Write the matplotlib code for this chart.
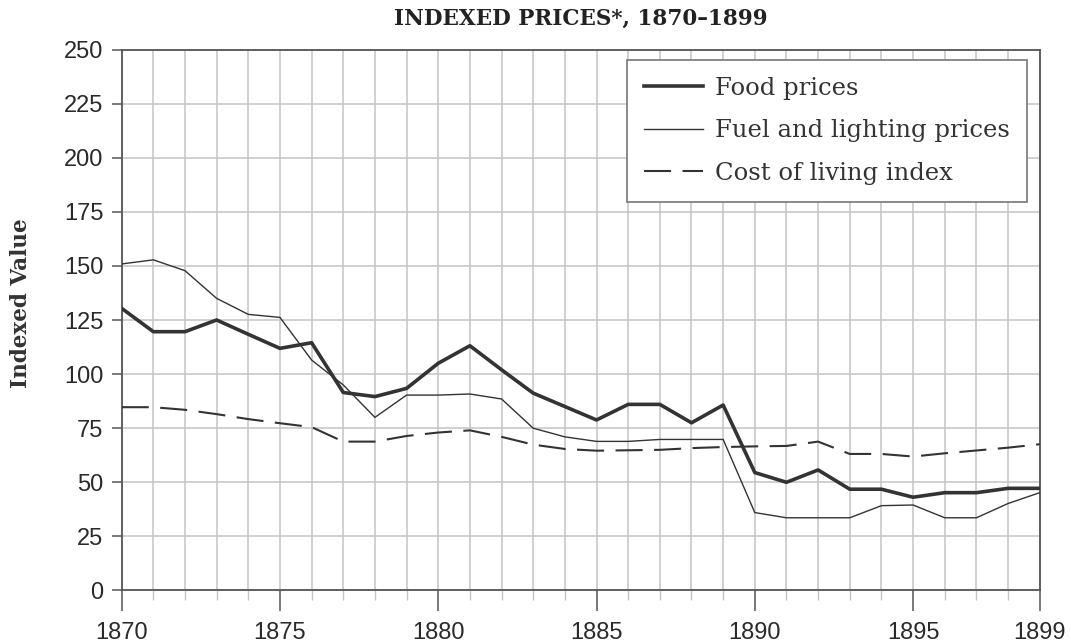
import matplotlib
matplotlib.use("Agg")
import matplotlib.pyplot as plt
from matplotlib.ticker import MultipleLocator

# data
years = list(range(1870, 1900))
food_prices = [130.4, 119.6, 119.6, 125, 118.4, 111.9, 114.5, 91.5, 89.6, 93.4,
               105, 113.1, 102, 91.2, 85, 78.8, 86, 86, 77.5, 85.7,
               54.5, 50, 55.7, 46.8, 46.8, 43.1, 45.2, 45.2, 47.2, 47.2]
fuel_prices = [150.9, 152.8, 147.8, 135, 127.6, 126.2, 106.5, 95, 80, 90.3,
               90.3, 90.8, 88.5, 75, 71, 68.9, 68.9, 69.8, 69.8, 69.8,
               36, 33.6, 33.6, 33.6, 39.2, 39.5, 33.6, 33.6, 40.2, 45.2]
cost_of_living = [84.7, 84.7, 83.5, 81.5, 79.2, 77.3, 75.5, 68.8, 68.8, 71.4,
                  73, 74, 71, 67.4, 65.4, 64.6, 64.8, 65, 65.8, 66.3,
                  66.6, 66.8, 68.8, 63.1, 63.1, 61.9, 63.4, 64.7, 66, 67.6]
series_labels = ["Food prices", "Fuel and lighting prices", "Cost of living index"]
x_tick_years = [1870, 1875, 1880, 1885, 1890, 1895, 1899]

line_col = "#333333"
grid_col = "#c4c4c4"
spine_col = "#555555"

fig = plt.figure(figsize=(10.71, 6.44), dpi=100)
ax = fig.add_axes([0.1136, 0.0831, 0.8572, 0.84])

ax.plot(years, food_prices, color=line_col, lw=2.6, label=series_labels[0], zorder=4)
ax.plot(years, fuel_prices, color=line_col, lw=1.0, label=series_labels[1], zorder=3)
cost_line, = ax.plot(years, cost_of_living, color=line_col, lw=1.5,
                     label=series_labels[2], zorder=3)
cost_line.set_dashes([13, 5.5])

ax.set_xlim(1870, 1899)
ax.set_ylim(0, 250)

# grid: one vertical line per year, horizontal every 25
ax.xaxis.set_minor_locator(MultipleLocator(1))
ax.set_xticks(x_tick_years)
ax.yaxis.set_major_locator(MultipleLocator(25))
ax.grid(True, which="both", axis="x", color=grid_col, lw=1.1, zorder=0)
ax.grid(True, which="major", axis="y", color=grid_col, lw=1.1, zorder=0)
ax.set_axisbelow(True)

for s in ax.spines.values():
    s.set_color(spine_col)
    s.set_linewidth(1.3)

ax.tick_params(axis="x", which="major", length=15, width=1.1, color=spine_col,
               labelsize=17, pad=8, labelcolor="#2a2a2a")
ax.tick_params(axis="x", which="minor", length=7.2, width=1.0, color=grid_col)
ax.tick_params(axis="y", length=7, width=1.1, color=spine_col, labelsize=17,
               pad=6, labelcolor="#2a2a2a")
for lab in ax.get_xticklabels() + ax.get_yticklabels():
    lab.set_family("Liberation Sans")

ax.set_ylabel("Indexed Value", family="DejaVu Serif", fontweight="bold",
              fontsize=15.5, color="#333333")
ax.yaxis.set_label_coords(-0.098, 0.531)
ax.set_title("INDEXED PRICES*, 1870\u20131899", family="DejaVu Serif",
             fontweight="bold", fontsize=15.5, color="#222222", pad=18)

leg = ax.legend(loc="upper right", bbox_to_anchor=(0.986, 0.981),
                prop={"family": "DejaVu Serif", "size": 17.5},
                frameon=True, fancybox=False, framealpha=1,
                edgecolor="#777777", handlelength=2.4, handletextpad=0.5,
                labelspacing=0.8, borderpad=0.7, borderaxespad=0)
leg.get_frame().set_linewidth(1.2)
for t in leg.get_texts():
    t.set_color("#333333")

fig.savefig("out.png", dpi=100, facecolor="white")
